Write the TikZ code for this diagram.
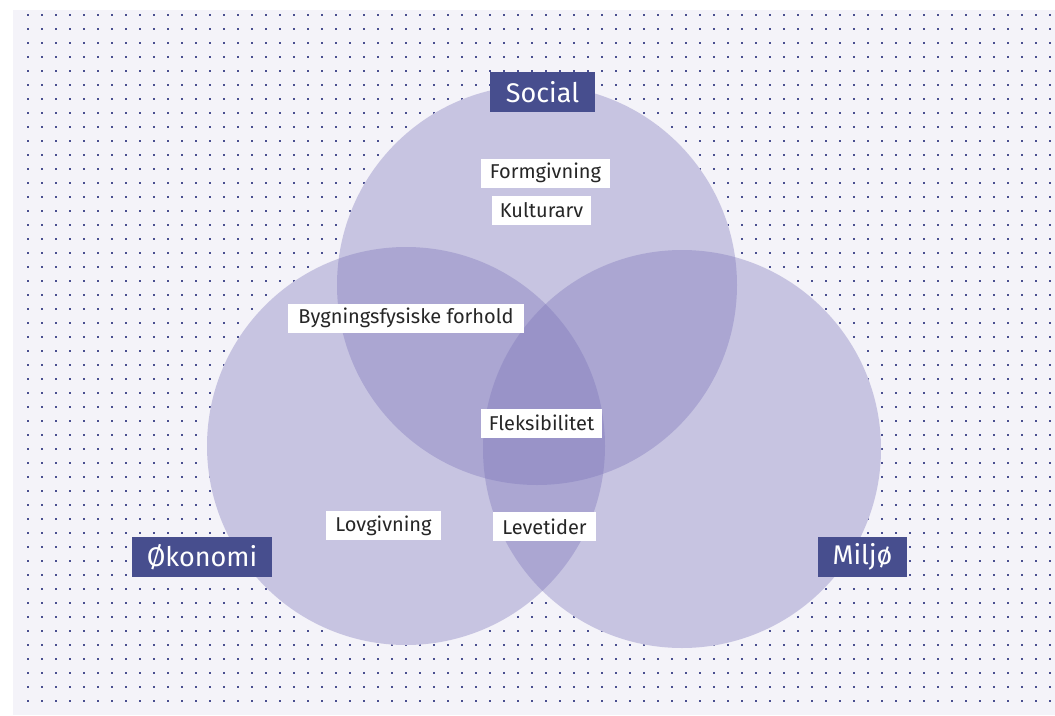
\documentclass[tikz,border=0pt]{standalone}
\usepackage{fontspec}
\setmainfont{Fira Sans}
\definecolor{paper}{HTML}{F4F3F9}
\definecolor{dotblue}{HTML}{4A4F90}
\definecolor{venn}{HTML}{7A73B9}
\definecolor{tagblue}{HTML}{474E8E}
\tikzset{
	tag/.style={fill=tagblue, text=white, inner sep=0pt, minimum height=40pt, font=\fontsize{27}{30}\selectfont},
	item/.style={fill=white, text=black!85, inner sep=0pt, minimum height=29pt, font=\fontsize{20}{23}\selectfont},
	vennfill/.style={fill=venn, fill opacity=0.36}
}
\begin{document}
\begin{tikzpicture}[x=1pt, y=-1pt]
			\useasboundingbox (0,0) rectangle (1055,715);
			% Dotted paper
			\fill[paper] (13,10) rectangle (1055,715);
			\foreach \x in {28,42,...,1050} {
				\foreach \y in {15,29,...,712} {
					\fill[dotblue] (\x-1,\y-1) rectangle (\x+1,\y+1);
				}
			}
			
			% Circles
			\coordinate (S) at (537,285);
			\coordinate (OE) at (406,446);
			\coordinate (M) at (682,449);
			\fill[paper] (S) circle (200) (OE) circle (199) (M) circle (199);
			\fill[vennfill] (S) circle (200);
			\fill[vennfill] (OE) circle (199);
			\fill[vennfill] (M) circle (199);
			
			% Headings
			\node[tag, minimum width=105pt] (social) at (542.5,92) {Social};
			\node[tag, minimum width=140pt] (oekonomi) at (202,557) {Økonomi};
			\node[tag, minimum width=89pt] (miljo) at (862.5,557) {Miljø};
			
			% Items
			\node[item, minimum width=129pt] (formgivning) at (545.5,173) {Formgivning};
			\node[item, minimum width=99pt] (kulturarv) at (541.5,210) {Kulturarv};
			\node[item, minimum width=236pt] (bygning) at (406,318) {Bygningsfysiske forhold};
			\node[item, minimum width=121pt] (fleks) at (541.5,423) {Fleksibilitet};
			\node[item, minimum width=115pt] (lov) at (383.5,525.5) {Lovgivning};
			\node[item, minimum width=103pt] (levetider) at (544.5,526.5) {Levetider};
		\end{tikzpicture}
\end{document}
